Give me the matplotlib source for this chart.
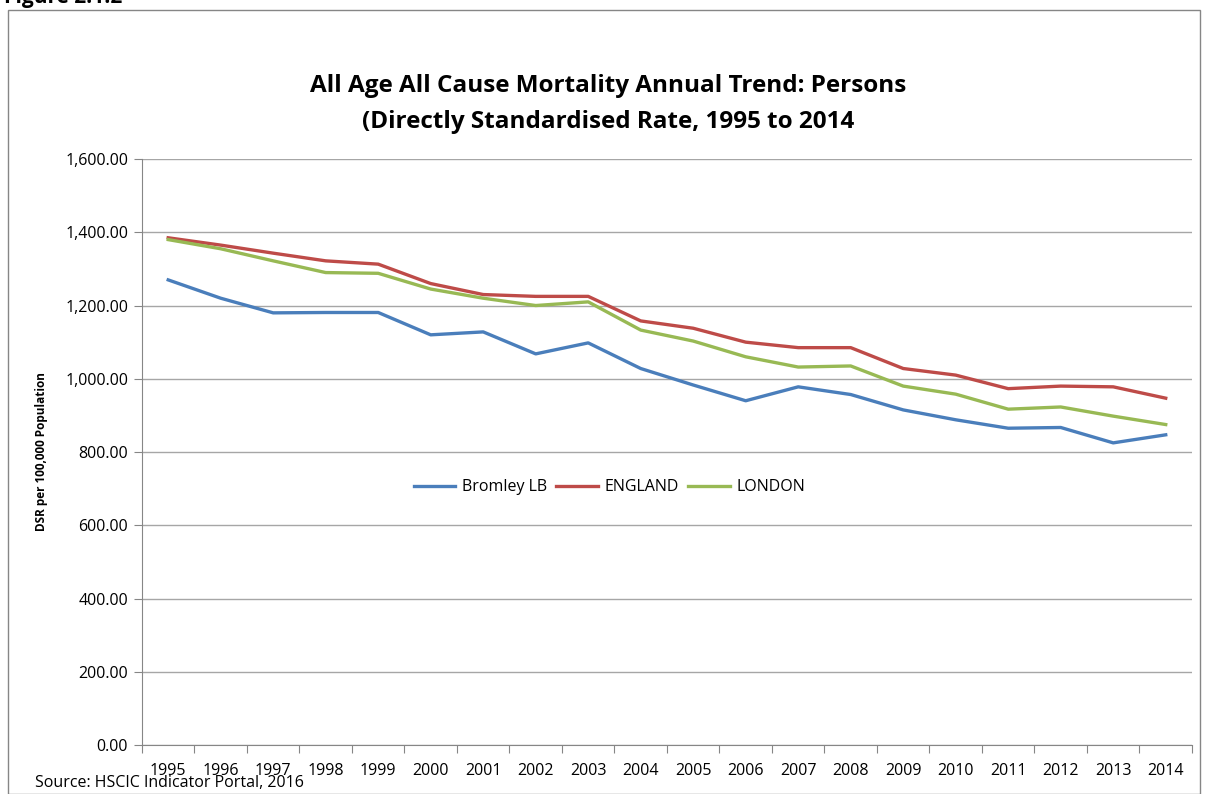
import matplotlib.pyplot as plt
import matplotlib.patches as patches
from matplotlib.ticker import FuncFormatter, MultipleLocator

years = list(range(1995, 2015))
bromley = [1270, 1220, 1180, 1181, 1181, 1120, 1128, 1068, 1098, 1028,
           983, 940, 978, 957, 915, 888, 865, 867, 825, 847]
england = [1385, 1365, 1343, 1322, 1313, 1260, 1230, 1225, 1225, 1158,
           1138, 1100, 1085, 1085, 1028, 1010, 973, 980, 978, 947]
london = [1380, 1355, 1322, 1290, 1288, 1245, 1220, 1200, 1210, 1133,
          1103, 1060, 1032, 1035, 980, 958, 917, 923, 898, 875]

series_names = ["Bromley LB", "ENGLAND", "LONDON"]
series_colors = ["#4A7EBB", "#BE4B48", "#98B954"]

plt.rcParams['font.family'] = ['Open Sans', 'DejaVu Sans']

fig = plt.figure(figsize=(12.05, 7.94), dpi=100)
ax = fig.add_axes([0.1178, 0.0617, 0.8714, 0.738])

x = list(range(len(years)))
for vals, name, col in zip([bromley, england, london], series_names, series_colors):
    ax.plot(x, vals, color=col, lw=2.4, label=name, solid_joinstyle='round')

ax.set_xlim(-0.5, len(years) - 0.5)
ax.set_ylim(0, 1600)
ax.yaxis.set_major_locator(MultipleLocator(200))
ax.yaxis.set_major_formatter(FuncFormatter(lambda v, p: f"{v:,.2f}"))
ax.grid(axis='y', color='#a6a6a6', lw=1)
ax.set_axisbelow(True)

# category ticks between years, labels centred on the years
ax.set_xticks([i - 0.5 for i in range(len(years) + 1)])
ax.set_xticklabels([])
ax.set_xticks(x, minor=True)
ax.set_xticklabels([str(y) for y in years], minor=True, fontsize=11.5)
ax.tick_params(axis='x', which='minor', length=0, pad=13)
ax.tick_params(axis='x', which='major', length=6, color='#868686')
ax.tick_params(axis='y', length=6, color='#868686', labelsize=11.5, pad=4)

for s in ['top', 'right']:
    ax.spines[s].set_visible(False)
for s in ['left', 'bottom']:
    ax.spines[s].set_color('#868686')

ax.set_ylabel("DSR per 100,000 Population", fontsize=8.5, fontweight='bold', labelpad=12)

ax.legend(loc='center', bbox_to_anchor=(0.445, 0.44), ncol=3, frameon=False,
          fontsize=11.5, handlelength=2.6, columnspacing=0.6, handletextpad=0.4)

fig.text(0.505, 0.869, "All Age All Cause Mortality Annual Trend: Persons\n(Directly Standardised Rate, 1995 to 2014",
         ha='center', va='center', fontsize=17.5, fontweight='bold', linespacing=1.7)

fig.text(0.029, 0.004, "Source: HSCIC Indicator Portal, 2016", fontsize=11.5, va='bottom')
fig.text(0.003, 0.9965, "Figure 2.1.2", fontsize=15, fontweight='bold', va='baseline')

fig.patches.append(patches.Rectangle((0.0066, 0.0), 0.9895, 0.988, transform=fig.transFigure,
                                     fill=False, edgecolor='#868686', lw=1))

fig.savefig("out.png", dpi=100)
